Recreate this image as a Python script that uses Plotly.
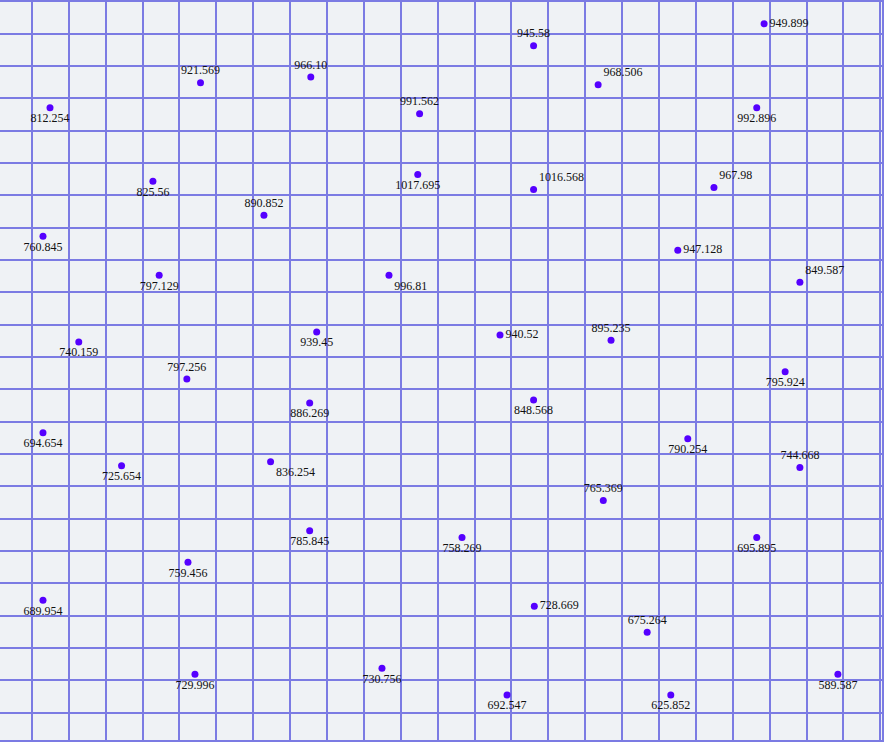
import plotly.graph_objects as go

labels = ["949.899", "945.58", "921.569", "966.10", "968.506", "812.254", "991.562", "992.896",
          "825.56", "1017.695", "1016.568", "967.98", "890.852", "760.845", "947.128", "849.587",
          "797.129", "996.81", "939.45", "940.52", "895.235", "740.159", "797.256", "795.924",
          "886.269", "848.568", "694.654", "790.254", "744.668", "725.654", "836.254", "765.369",
          "695.895", "785.845", "758.269", "759.456", "689.954", "728.669", "675.264", "729.996",
          "730.756", "692.547", "625.852", "589.587"]

x_vals = [19.85, 13.60, 4.57, 7.56, 15.35, 0.49, 10.51, 19.65,
          3.28, 10.46, 13.60, 18.49, 6.29, 0.30, 17.51, 20.82,
          3.45, 9.68, 7.72, 12.69, 15.70, 1.27, 4.20, 20.42,
          7.53, 13.60, 0.30, 17.78, 20.82, 2.43, 6.47, 15.49,
          19.65, 7.53, 11.66, 4.23, 0.30, 13.62, 16.68, 4.42,
          9.49, 12.88, 17.32, 21.85]

y_vals = [21.30, 20.62, 19.48, 19.66, 19.42, 18.71, 18.52, 18.71,
          16.43, 16.64, 16.18, 16.24, 15.38, 14.73, 14.30, 13.31,
          13.53, 13.53, 11.77, 11.68, 11.52, 11.46, 10.32, 10.54,
          9.58, 9.67, 8.66, 8.47, 7.58, 7.64, 7.76, 6.56,
          5.42, 5.63, 5.42, 4.65, 3.48, 3.29, 2.49, 1.19,
          1.38, 0.55, 0.55, 1.19]

label_pos = ["middle right", "top center", "top center", "top center", "top right", "bottom center",
             "top center", "bottom center", "bottom center", "bottom center", "top right", "top right",
             "top center", "bottom center", "middle right", "top right", "bottom center", "bottom right",
             "bottom center", "middle right", "top center", "bottom center", "top center", "bottom center",
             "bottom center", "bottom center", "bottom center", "bottom center", "top center", "bottom center",
             "bottom right", "top center", "bottom center", "bottom center", "bottom center", "bottom center",
             "bottom center", "middle right", "top center", "bottom center", "bottom center", "bottom center",
             "bottom center", "bottom center"]

grid_color = "#7b7be3"

fig = go.Figure(go.Scatter(
    x=x_vals, y=y_vals, mode="markers+text",
    text=labels, textposition=label_pos,
    textfont=dict(family="Liberation Serif, Times New Roman, serif", size=12, color="#111111"),
    marker=dict(size=7, color="#5500ff"),
    showlegend=False, hoverinfo="text"))

axis_common = dict(showticklabels=False, ticks="", zeroline=False, showgrid=True,
                   gridcolor=grid_color, gridwidth=2, dtick=1, tick0=0,
                   showline=True, linecolor=grid_color, linewidth=2, mirror=True,
                   fixedrange=True)

fig.update_xaxes(range=[-0.8656, 23.046], **axis_common)
fig.update_yaxes(range=[-0.842, 21.976], **axis_common)

fig.update_layout(
    width=884, height=743,
    margin=dict(l=0, r=0, t=0, b=3, pad=0),
    plot_bgcolor="#eff2f5", paper_bgcolor="#ffffff",
    showlegend=False,
)

fig.write_html("out.html",
               config={"displayModeBar": False},
               post_script="document.body.style.margin='0';document.body.style.overflow='hidden';")
